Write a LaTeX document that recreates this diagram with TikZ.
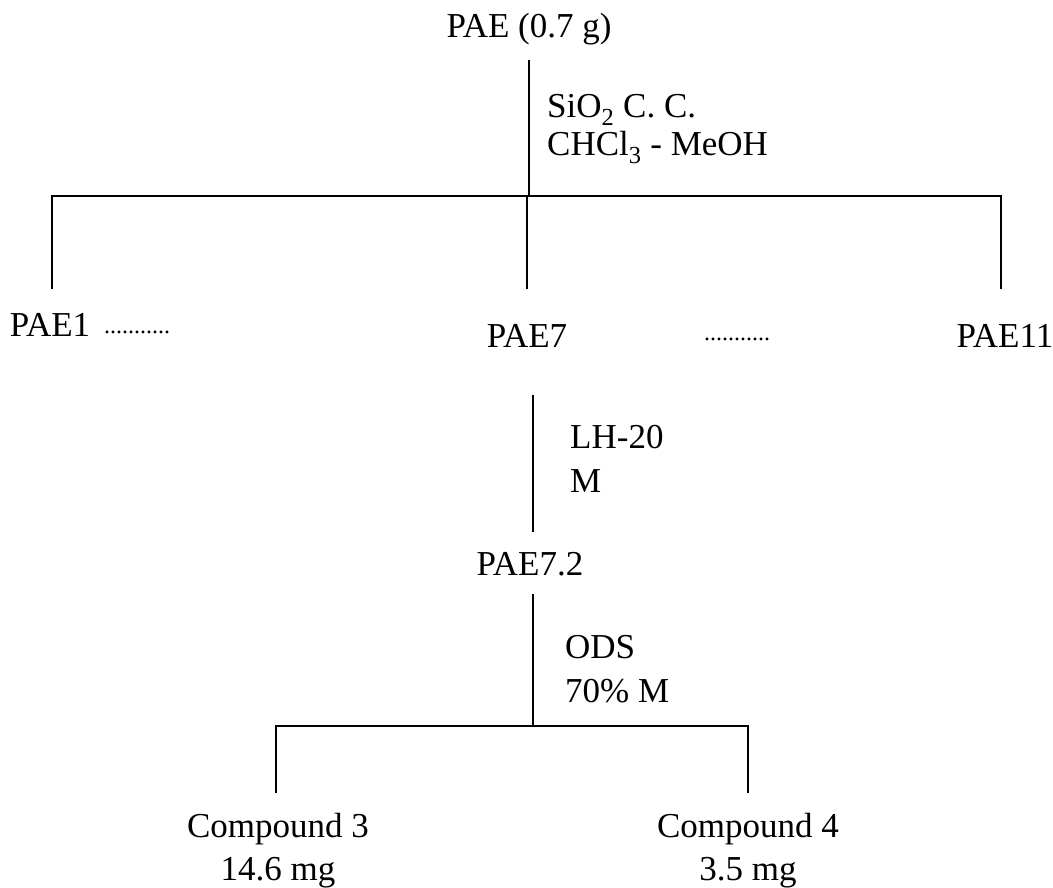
\documentclass[tikz,border=0pt]{standalone}
\usepackage{fontspec}
\setmainfont{Liberation Serif}
\begin{document}
\begin{tikzpicture}[x=1pt,y=-1pt,
  lbl/.style={inner sep=0pt,font=\fontsize{35}{42}\selectfont},
  dotsty/.style={inner sep=0pt,font=\fontsize{24}{28}\selectfont},
  ln/.style={line width=2pt},
  cond/.style={lbl,anchor=base west,align=left}]
\useasboundingbox (0,0) rectangle (1053,888);
% nodes
\node[lbl,anchor=base] (pae) at (529,38) {PAE (0.7 g)};
\node[cond] (c1a) at (547,118) {SiO\textsubscript{2} C. C.};
\node[cond] (c1b) at (547,156) {CHCl\textsubscript{3} - MeOH};
\node[lbl,anchor=base] (pae1) at (50,336) {PAE1};
\node[dotsty,anchor=base] (d1) at (137,333) {...........};
\node[lbl,anchor=base] (pae7) at (527,347) {PAE7};
\node[dotsty,anchor=base] (d2) at (737,340) {...........};
\node[lbl,anchor=base] (pae11) at (1005,347) {PAE11};
\node[cond] (c2a) at (570,448) {LH-20};
\node[cond] (c2b) at (570,492) {M};
\node[lbl,anchor=base] (pae72) at (530,575) {PAE7.2};
\node[cond] (c3a) at (565,658) {ODS};
\node[cond] (c3b) at (565,702) {70\% M};
\node[lbl,anchor=base] (cp3) at (278,837) {Compound 3};
\node[lbl,anchor=base] (cp3m) at (278,880) {14.6 mg};
\node[lbl,anchor=base] (cp4) at (748,837) {Compound 4};
\node[lbl,anchor=base] (cp4m) at (748,880) {3.5 mg};
% coordinates
\coordinate (t1) at (529,60);
\coordinate (j1) at (529,196);
\coordinate (hl) at (52,196);
\coordinate (hr) at (1001,196);
\coordinate (hm) at (527,196);
\coordinate (e1) at (52,289);
\coordinate (e7) at (527,289);
\coordinate (e11) at (1001,289);
\coordinate (t2) at (533,395);
\coordinate (b2) at (533,532);
\coordinate (t3) at (533,594);
\coordinate (j3) at (533,726);
\coordinate (gl) at (276,726);
\coordinate (gr) at (748,726);
\coordinate (f3) at (276,793);
\coordinate (f4) at (748,793);
% connectors
\draw[ln] (t1) -- (j1);
\draw[ln] (e1) -- (hl) -- (hr) -- (e11);
\draw[ln] (hm) -- (e7);
\draw[ln] (t2) -- (b2);
\draw[ln] (t3) -- (j3);
\draw[ln] (f3) -- (gl) -- (gr) -- (f4);
\end{tikzpicture}
\end{document}
